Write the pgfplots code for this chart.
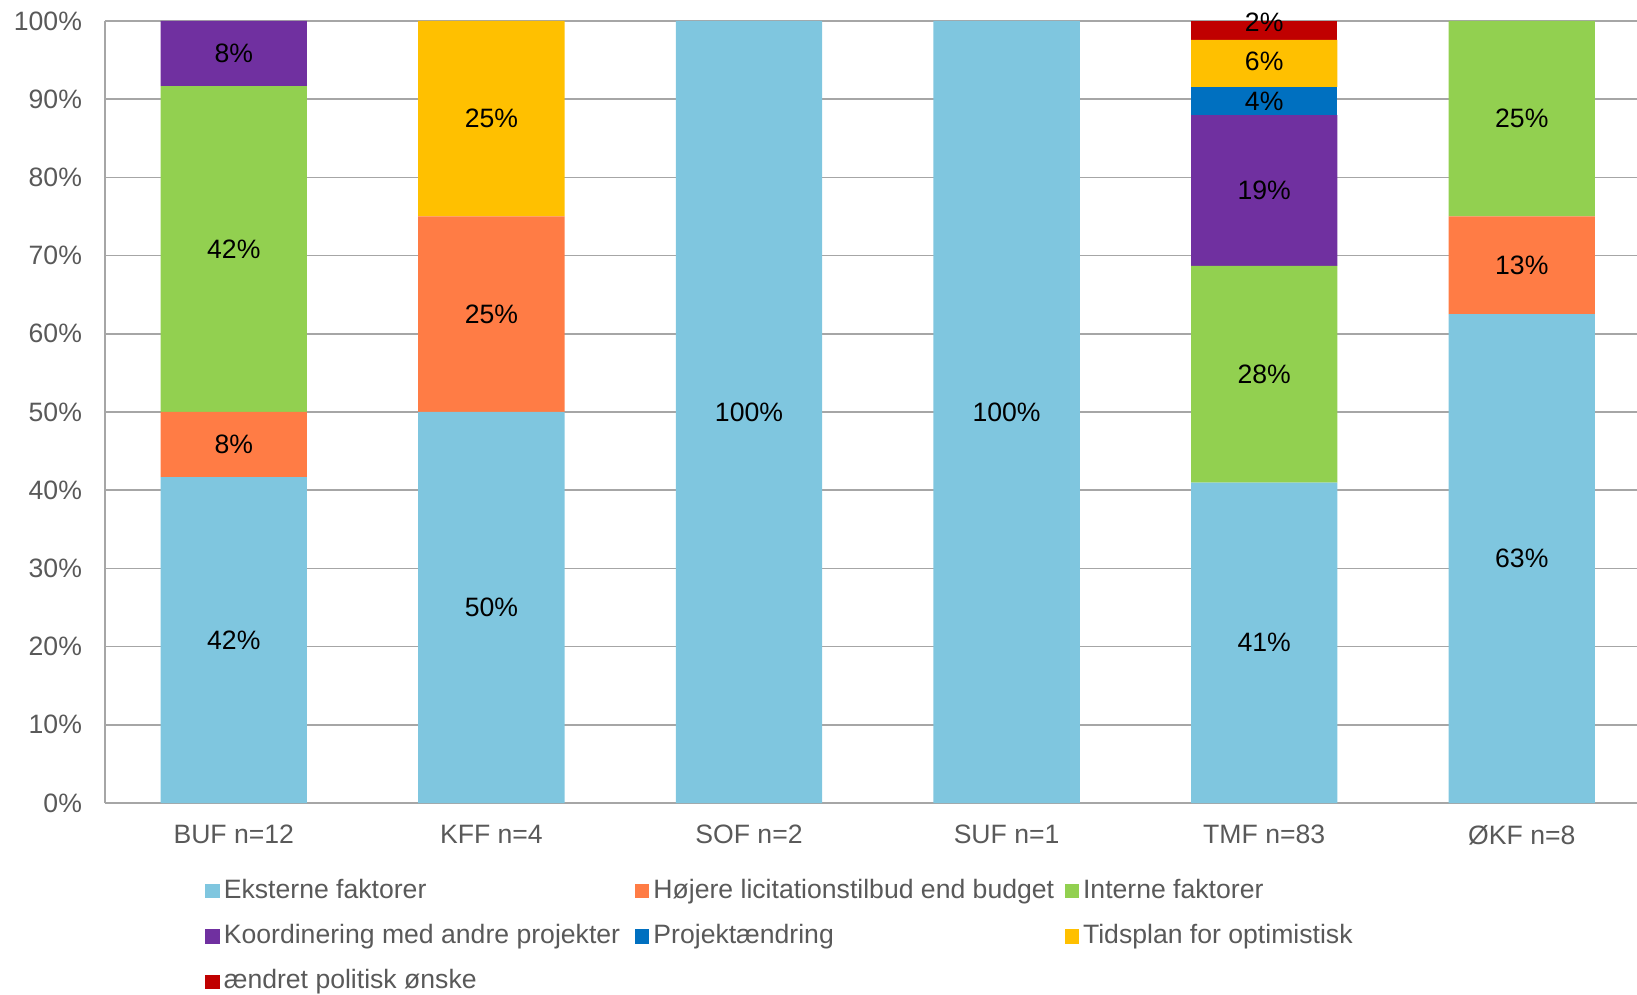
\documentclass[border=0pt]{standalone}
\usepackage{fontspec}
\setmainfont{Liberation Sans}
\usepackage{pgfplots}
\pgfplotsset{compat=1.18}
\definecolor{cEks}{HTML}{7FC6DF}
\definecolor{cHoj}{HTML}{FF7C45}
\definecolor{cInt}{HTML}{92D050}
\definecolor{cKoo}{HTML}{7030A0}
\definecolor{cPro}{HTML}{0070C0}
\definecolor{cTid}{HTML}{FFC000}
\definecolor{cAen}{HTML}{C00000}
\definecolor{txtgray}{HTML}{595959}
\definecolor{gridgray}{HTML}{A6A6A6}
\newcommand{\lw}[1]{\makebox[203.6pt][l]{#1}}
\newcommand{\chfont}{\fontsize{13.3}{15}\selectfont}
\begin{document}
\begin{tikzpicture}
\useasboundingbox (0pt,0pt) rectangle (818.5pt,497.5pt);
\pgfplotsset{common/.style={
  at={(52.5pt,96pt)}, anchor=south west, scale only axis,
  width=772.8pt, height=391pt,
  xmin=-0.5, xmax=5.5, ymin=0, ymax=100,
}}
\begin{axis}[common,
  ybar stacked, bar width=0.568,
  axis x line=bottom, axis y line=left,
  axis line style={-, draw=gridgray, line width=1pt},
  major tick length=0pt,
  ytick={0,10,...,100},
  yticklabels={0\%,10\%,20\%,30\%,40\%,50\%,60\%,70\%,80\%,90\%,100\%},
  xtick={0,1,2,3,4,5},
  xticklabels={BUF n=12,KFF n=4,SOF n=2,SUF n=1,TMF n=83,ØKF n=8},
  tick label style={font=\chfont, text=txtgray},
  xticklabel style={yshift=-7.5pt},
  yticklabel style={xshift=-8pt},
  ymajorgrids,
  major grid style={draw=gridgray, line width=0.8pt},
  legend columns=3,
  legend style={at={(0.0650,-0.091)}, anchor=north west, draw=none, fill=none,
    inner sep=0pt, outer sep=0pt, font=\chfont, text=txtgray,
    /tikz/column sep=0pt, /tikz/row sep=5.7pt,
    nodes={inner sep=2pt, text height=10pt, text depth=3pt}},
  legend image code/.code={\fill[#1] (0pt,-3.6pt) rectangle (7.2pt,3.6pt);},
]
\addplot[fill=cEks, draw=none] coordinates {(0,41.67) (1,50) (2,100) (3,100) (4,40.96) (5,62.5)};
\addplot[fill=cHoj, draw=none] coordinates {(0,8.33) (1,25) (2,0) (3,0) (4,0) (5,12.5)};
\addplot[fill=cInt, draw=none] coordinates {(0,41.67) (1,0) (2,0) (3,0) (4,27.71) (5,25)};
\addplot[fill=cKoo, draw=none] coordinates {(0,8.33) (1,0) (2,0) (3,0) (4,19.28) (5,0)};
\addplot[fill=cPro, draw=none] coordinates {(0,0) (1,0) (2,0) (3,0) (4,3.61) (5,0)};
\addplot[fill=cTid, draw=none] coordinates {(0,0) (1,25) (2,0) (3,0) (4,6.02) (5,0)};
\addplot[fill=cAen, draw=none] coordinates {(0,0) (1,0) (2,0) (3,0) (4,2.41) (5,0)};
\legend{\lw{Eksterne faktorer},\lw{Højere licitationstilbud end budget},\lw{Interne faktorer},
  \lw{Koordinering med andre projekter},\lw{Projektændring},\lw{Tidsplan for optimistisk},
  \lw{ændret politisk ønske}}
\end{axis}
\begin{axis}[common, hide axis,
  nodes near coords, point meta=explicit symbolic,
  every node near coord/.append style={anchor=center, font=\chfont, text=black}]
\addplot[draw=none, mark=none] coordinates {
  (0,20.83) [42\%] (0,45.83) [8\%] (0,70.83) [42\%] (0,95.83) [8\%]
  (1,25) [50\%] (1,62.5) [25\%] (1,87.5) [25\%]
  (2,50) [100\%] (3,50) [100\%]
  (4,20.48) [41\%] (4,54.82) [28\%] (4,78.31) [19\%] (4,89.76) [4\%] (4,94.9) [6\%] (4,99.8) [2\%]
  (5,31.25) [63\%] (5,68.75) [13\%] (5,87.5) [25\%]
};
\end{axis}
\end{tikzpicture}
\end{document}
